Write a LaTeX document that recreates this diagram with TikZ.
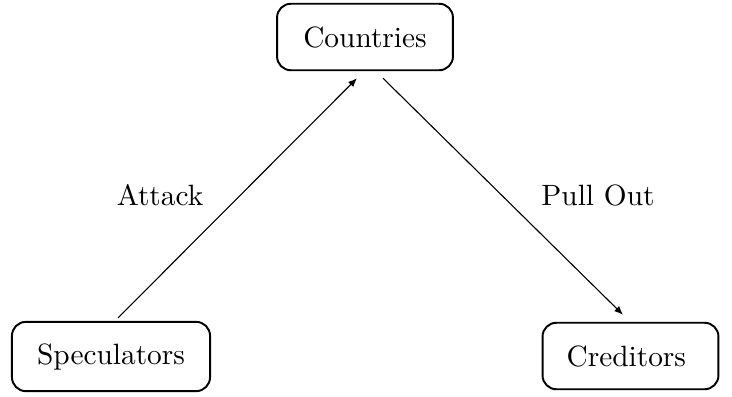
\documentclass[tikz,border=0pt]{standalone}
\usetikzlibrary{calc,arrows.meta}
\begin{document}
\begin{tikzpicture}[x=0.361pt,y=-0.361pt,
  every node/.style={font=\fontsize{10.6pt}{13pt}\selectfont},
  box/.style={draw,line width=0.7pt,rounded corners=5pt,minimum width=63.5pt,minimum height=24pt,inner sep=0pt},
  link/.style={line width=0.4pt,-{Latex[length=3.2pt,width=2.6pt]}}]
\useasboundingbox (0,0) rectangle (732,396);
\node[box,minimum width=71.5pt,minimum height=25pt] (spec) at (111,356.5) {Speculators};
\node[box] (coun) at (365,37) {Countries};
\node[box] (cred) at (630.5,356) {\hspace*{-3pt}Creditors};
\coordinate (a1) at ($(spec.north)+(7,-3)$);
\coordinate (a2) at ($(coun.south)+(-8,7)$);
\coordinate (b1) at ($(coun.south)+(18,7)$);
\coordinate (b2) at ($(cred.north)+(-7.5,-7)$);
\draw[link] (a1) -- (a2);
\draw[link] (b1) -- (b2);
\node (attack) at (160,195) {Attack};
\node (pull) at (598,195) {Pull Out};
\end{tikzpicture}
\end{document}
